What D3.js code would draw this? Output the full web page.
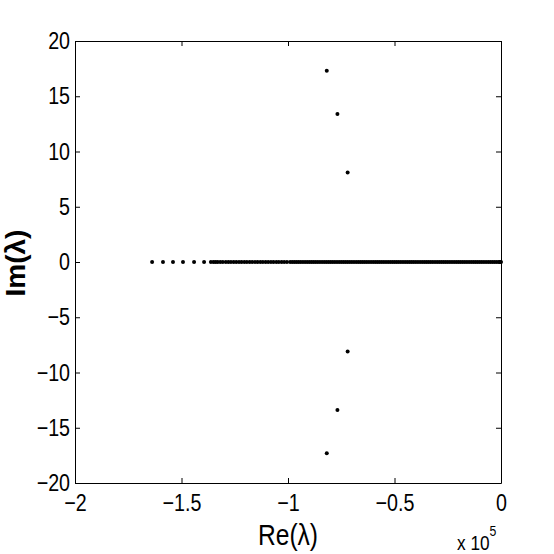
<!DOCTYPE html>
<html>
<head>
<meta charset="utf-8">
<script src="https://cdn.jsdelivr.net/npm/d3@7"></script>
<style>
  body { margin: 0; background: #fff; }
  text { font-family: "Liberation Sans", Arial, sans-serif; fill: #000; }
</style>
</head>
<body>
<div id="chart"></div>
<script>
// eigenvalues, real part in units of 1e5
var xExp = 5;
var realAxisRe = [-1.638, -1.587, -1.540, -1.493, -1.441, -1.394, -1.362, -1.350, -1.340,
  -1.330, -1.318, -1.306, -1.292, -1.280, -1.268, -1.255, -1.243, -1.230, -1.218, -1.205,
  -1.193, -1.180, -1.168, -1.155, -1.143, -1.130, -1.118, -1.105, -1.093, -1.080, -1.068,
  -1.055, -1.043, -1.030, -1.018, -1.005, -0.99, -0.98, -0.97, -0.96, -0.95, -0.94, -0.93,
  -0.92, -0.91, -0.90, -0.89, -0.88, -0.87, -0.86, -0.85, -0.84, -0.83, -0.82, -0.81, -0.80,
  -0.79, -0.78, -0.77, -0.76, -0.75, -0.74, -0.73, -0.72, -0.71, -0.70, -0.69, -0.68, -0.67,
  -0.66, -0.65, -0.64, -0.63, -0.62, -0.61, -0.60, -0.59, -0.58, -0.57, -0.56, -0.55, -0.54,
  -0.53, -0.52, -0.51, -0.50, -0.49, -0.48, -0.47, -0.46, -0.45, -0.44, -0.43, -0.42, -0.41,
  -0.40, -0.39, -0.38, -0.37, -0.36, -0.35, -0.34, -0.33, -0.32, -0.31, -0.30, -0.29, -0.28,
  -0.27, -0.26, -0.25, -0.24, -0.23, -0.22, -0.21, -0.20, -0.19, -0.18, -0.17, -0.16, -0.15,
  -0.14, -0.13, -0.12, -0.11, -0.10, -0.09, -0.08, -0.07, -0.06, -0.05, -0.04, -0.03, -0.02,
  -0.01, -0.005, 0.0];
var complexRe = [-0.818, -0.768, -0.720, -0.720, -0.768, -0.818];
var complexIm = [17.3, 13.4, 8.1, -8.1, -13.4, -17.3];

var xTicks = [-2, -1.5, -1, -0.5, 0];
var yTicks = [-20, -15, -10, -5, 0, 5, 10, 15, 20];

var width = 554, height = 554;
var pLeft = 75, pRight = 501, pTop = 41, pBottom = 483;
var squeeze = 0.82; // MATLAB's narrow helvetica look

var points = realAxisRe.map(function(d) { return {re: d, im: 0}; })
  .concat(complexRe.map(function(d, i) { return {re: d, im: complexIm[i]}; }));

var svg = d3.select("#chart").append("svg")
    .attr("width", width)
    .attr("height", height);

svg.append("rect").attr("width", width).attr("height", height).attr("fill", "#fff");

var x = d3.scaleLinear().domain([-2, 0]).range([pLeft, pRight]);
var y = d3.scaleLinear().domain([-20, 20]).range([pBottom, pTop]);

function fmt(d) { return d < 0 ? "\u2212" + Math.abs(d) : String(d); }

var xAxis = svg.append("g")
    .attr("transform", "translate(0," + pBottom + ")")
    .call(d3.axisBottom(x).tickValues(xTicks).tickFormat(fmt).tickSize(-5).tickPadding(11).tickSizeOuter(0));

var yAxis = svg.append("g")
    .attr("transform", "translate(" + pLeft + ",0)")
    .call(d3.axisLeft(y).tickValues(yTicks).tickFormat(fmt).tickSize(-5).tickPadding(5).tickSizeOuter(0));

svg.append("g")
    .attr("transform", "translate(0," + pTop + ")")
    .call(d3.axisTop(x).tickValues(xTicks).tickFormat("").tickSize(-5).tickSizeOuter(0));

svg.append("g")
    .attr("transform", "translate(" + pRight + ",0)")
    .call(d3.axisRight(y).tickValues(yTicks).tickFormat("").tickSize(-5).tickSizeOuter(0));

svg.selectAll(".domain").attr("stroke", "#000");
svg.selectAll(".tick line").attr("stroke", "#000");
svg.selectAll(".tick text")
    .attr("font-size", "24px")
    .style("font-family", "'Liberation Sans', Arial, sans-serif");

xAxis.selectAll(".tick text").attr("transform", "scale(" + squeeze + ",1)");
yAxis.selectAll(".tick text")
    .attr("x", -5 / squeeze)
    .attr("transform", "scale(" + squeeze + ",1)");

svg.append("g").selectAll("circle")
    .data(points)
  .enter().append("circle")
    .attr("cx", function(d) { return x(d.re); })
    .attr("cy", function(d) { return y(d.im); })
    .attr("r", 2)
    .attr("fill", "#000");

svg.append("text")
    .attr("transform", "translate(288,545) scale(" + squeeze + ",1)")
    .attr("text-anchor", "middle")
    .attr("font-size", "30px")
    .text("Re(\u03bb)");

svg.append("text")
    .attr("transform", "translate(25,263) rotate(-90)")
    .attr("text-anchor", "middle")
    .attr("font-size", "28px")
    .attr("font-weight", "bold")
    .text("Im(\u03bb)");

var mult = svg.append("text")
    .attr("transform", "translate(457,550) scale(" + squeeze + ",1)")
    .attr("font-size", "21px");
mult.append("tspan").text("x 10");
mult.append("tspan").attr("dy", -14).attr("font-size", "15px").text(xExp);
</script>
</body>
</html>
